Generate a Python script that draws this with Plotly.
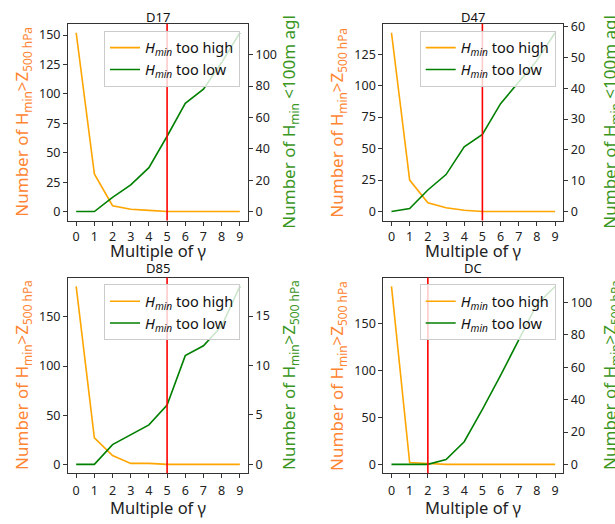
import plotly.graph_objects as go

gamma = [0, 1, 2, 3, 4, 5, 6, 7, 8, 9]
titles = ["D17", "D47", "D85", "DC"]
too_high = [
    [152, 32, 5, 2, 1, 0, 0, 0, 0, 0],
    [142, 25, 7, 3, 1, 0, 0, 0, 0, 0],
    [181, 27, 9, 1, 1, 0, 0, 0, 0, 0],
    [189, 2, 1, 0, 0, 0, 0, 0, 0, 0],
]
too_low = [
    [0, 0, 9, 17, 28, 48, 69, 78, 95, 114],
    [0, 1, 7, 12, 21, 25, 35, 42, 49, 58],
    [0, 0, 2, 3, 4, 6, 11, 12, 14, 18],
    [0, 0, 0, 3, 14, 34, 55, 77, 99, 110],
]
chosen = [5, 5, 5, 2]
left_ticks = [
    [0, 25, 50, 75, 100, 125, 150],
    [0, 25, 50, 75, 100, 125],
    [0, 50, 100, 150],
    [0, 50, 100, 150],
]
right_ticks = [
    [0, 20, 40, 60, 80, 100],
    [0, 10, 20, 30, 40, 50, 60],
    [0, 5, 10, 15],
    [0, 20, 40, 60, 80, 100],
]
left_label = "Number of H<sub>min</sub>>Z<sub>500 hPa</sub>"
right_labels = [
    "Number of H<sub>min</sub> <100m agl",
    "Number of H<sub>min</sub> <100m agl",
    "Number of H<sub>min</sub>>Z<sub>500 hPa</sub>",
    "Number of H<sub>min</sub>>Z<sub>500 hPa</sub>",
]

W, H = 615, 524
FONT = "Noto Sans"
ORANGE = "#FFA500"
GREEN = "#008000"
ORANGE_LBL = "#ff8533"
GREEN_LBL = "#3a961e"
AXC = "#333333"

# pixel boxes of each panel: (left, right, top, bottom)
boxes = [
    (68, 248, 18, 217),
    (383.3, 563.3, 18, 217),
    (68, 248, 274.7, 472.7),
    (383.3, 563.3, 274.7, 472.7),
]
legend_pos = [(240, 25), (555.7, 25), (240, 281.5), (555.7, 281.5)]
left_lbl_x = [8, 323, 8, 323]
right_lbl_x = [275, 596, 275, 596]
title_y = [11, 11, 265, 265]
xtitle_off = [30, 30, 35, 35]
xtick_standoff = [0, 0, 2, 2]


def px(x):
    return x / W


def py(y):
    return 1 - y / H


def rng(vals, lo=0.05):
    mn, mx = min(vals), max(vals)
    d = mx - mn
    return [mn - lo * d, mx + lo * d]


fig = go.Figure()
layout = {}
shapes = []
annotations = []

for k in range(4):
    xa = "x" if k == 0 else f"x{k + 1}"
    yl = "y" if k == 0 else f"y{2 * k + 1}"
    yr = f"y{2 * k + 2}"
    xkey = "xaxis" if k == 0 else f"xaxis{k + 1}"
    ylkey = "yaxis" if k == 0 else f"yaxis{2 * k + 1}"
    yrkey = f"yaxis{2 * k + 2}"
    lg = "legend" if k == 0 else f"legend{k + 1}"
    l, r, t, b = boxes[k]

    fig.add_trace(go.Scatter(x=gamma, y=too_high[k], mode="lines",
                             line=dict(color=ORANGE, width=1.6),
                             name="<i>H</i><sub><i>min</i></sub> too high",
                             xaxis=xa, yaxis=yl, legend=lg))
    fig.add_trace(go.Scatter(x=gamma, y=too_low[k], mode="lines",
                             line=dict(color=GREEN, width=1.6),
                             name="<i>H</i><sub><i>min</i></sub> too low",
                             xaxis=xa, yaxis=yr, legend=lg))

    common = dict(showgrid=False, zeroline=False, ticks="outside", ticklen=4,
                  tickwidth=1, tickcolor=AXC, showline=True, linecolor=AXC,
                  linewidth=1, tickfont=dict(family=FONT, size=12.5, color="#222"))
    layout[xkey] = dict(common, domain=[px(l), px(r)], anchor=yl,
                        range=rng(gamma), tickvals=gamma, mirror=True,
                        ticklabelstandoff=xtick_standoff[k])
    layout[ylkey] = dict(common, domain=[py(b), py(t)], anchor=xa,
                         range=rng(too_high[k]), tickvals=left_ticks[k], mirror=True)
    layout[yrkey] = dict(common, domain=[py(b), py(t)], anchor=xa,
                         overlaying=yl, side="right",
                         range=rng(too_low[k]), tickvals=right_ticks[k])

    lx, ly = legend_pos[k]
    layout[lg] = dict(x=px(lx), y=py(ly), xanchor="right", yanchor="top",
                      bgcolor="rgba(255,255,255,0.8)", bordercolor="#cccccc",
                      borderwidth=1, itemwidth=30,
                      font=dict(family=FONT, size=14.5, color="#111"),
                      tracegroupgap=0)

    shapes.append(dict(type="line", xref=xa, yref=f"{yl} domain",
                       x0=chosen[k], x1=chosen[k], y0=0, y1=1,
                       line=dict(color="red", width=1.6), layer="above"))

    cx = px((l + r) / 2)
    annotations.append(dict(text=titles[k], x=cx, y=py(title_y[k]), xref="paper",
                            yref="paper", showarrow=False, xanchor="center",
                            yanchor="middle", font=dict(family=FONT, size=13, color="#111")))
    annotations.append(dict(text="Multiple of γ", x=cx, y=py(b + xtitle_off[k]), xref="paper",
                            yref="paper", showarrow=False, xanchor="center",
                            yanchor="middle", font=dict(family=FONT, size=16.5, color="#222")))
    cy = py((t + b) / 2)
    annotations.append(dict(text=left_label, x=px(left_lbl_x[k]), y=cy, xref="paper",
                            yref="paper", showarrow=False, xanchor="left",
                            yanchor="middle", textangle=-90,
                            font=dict(family=FONT, size=17, color=ORANGE_LBL)))
    annotations.append(dict(text=right_labels[k], x=px(right_lbl_x[k]), y=cy, xref="paper",
                            yref="paper", showarrow=False, xanchor="left",
                            yanchor="middle", textangle=-90,
                            font=dict(family=FONT, size=17, color=GREEN_LBL)))

fig.update_layout(**layout)
fig.update_layout(width=W, height=H, margin=dict(l=0, r=0, t=0, b=0),
                  paper_bgcolor="white", plot_bgcolor="white",
                  shapes=shapes, annotations=annotations, showlegend=True)
fig.write_html("out.html")
